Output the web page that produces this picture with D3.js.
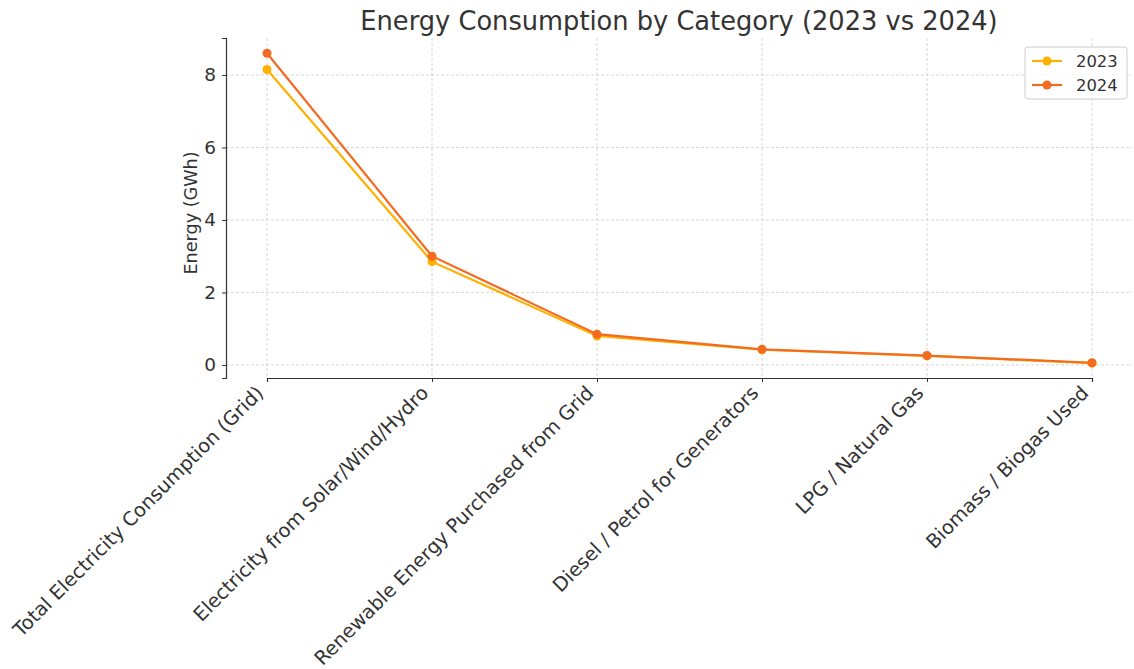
<!DOCTYPE html>
<html>
<head>
<meta charset="utf-8">
<script src="https://cdn.jsdelivr.net/npm/d3@7"></script>
<style>
  body { margin: 0; background: #fff; }
  text { font-family: "DejaVu Sans", sans-serif; fill: #333; }
</style>
</head>
<body>
<svg id="chart" width="1134" height="669"></svg>
<script>
var categories = [
  "Total Electricity Consumption (Grid)",
  "Electricity from Solar/Wind/Hydro",
  "Renewable Energy Purchased from Grid",
  "Diesel / Petrol for Generators",
  "LPG / Natural Gas",
  "Biomass / Biogas Used"
];
var values2023 = [8.15, 2.85, 0.8, 0.42, 0.25, 0.05];
var values2024 = [8.6, 3.0, 0.85, 0.43, 0.26, 0.06];
var yTicks = [0, 2, 4, 6, 8];

var series = [
  { name: "2023", color: "#ffb000", values: values2023 },
  { name: "2024", color: "#f26b21", values: values2024 }
];

var svg = d3.select("#chart");
var margin = { left: 226, right: 2, top: 38, bottom: 291 };
var width = 1134 - margin.left - margin.right;
var height = 669 - margin.top - margin.bottom;

var x = d3.scalePoint()
  .domain(categories)
  .range([41, width - 40]);

var y = d3.scaleLinear()
  .domain([-0.36, 9.02])
  .range([height, 0]);

var g = svg.append("g")
  .attr("transform", "translate(" + margin.left + "," + margin.top + ")");

// grid
g.append("g").selectAll("line.h")
  .data(yTicks).enter().append("line")
  .attr("x1", 0).attr("x2", width)
  .attr("y1", d => y(d)).attr("y2", d => y(d))
  .attr("stroke", "#cccccc").attr("stroke-width", 0.8)
  .attr("stroke-dasharray", "3,2");
g.append("g").selectAll("line.v")
  .data(categories).enter().append("line")
  .attr("y1", 0).attr("y2", height)
  .attr("x1", d => x(d)).attr("x2", d => x(d))
  .attr("stroke", "#cccccc").attr("stroke-width", 0.8)
  .attr("stroke-dasharray", "3,2");

// axes
var yAxis = g.append("g")
  .call(d3.axisLeft(y).tickValues(yTicks).tickSize(4).tickPadding(6));
var xAxis = g.append("g")
  .attr("transform", "translate(0," + height + ")")
  .call(d3.axisBottom(x).tickSize(4).tickPadding(6));

[yAxis, xAxis].forEach(function (a) {
  a.select(".domain").attr("stroke", "#333").attr("stroke-width", 1.2);
  a.selectAll(".tick line").attr("stroke", "#333");
  a.selectAll(".tick text").style("font-size", "18.5px").attr("fill", "#333");
});

xAxis.selectAll(".tick text")
  .style("font-size", "19.4px")
  .attr("text-anchor", "end")
  .attr("dy", "0.3em")
  .attr("transform", "translate(-14,5) rotate(-45)");

// lines
var line = d3.line()
  .x((d, i) => x(categories[i]))
  .y(d => y(d));

series.forEach(function (s) {
  g.append("path")
    .datum(s.values)
    .attr("fill", "none")
    .attr("stroke", s.color)
    .attr("stroke-width", 2.2)
    .attr("d", line);
  g.selectAll(null)
    .data(s.values).enter().append("circle")
    .attr("cx", (d, i) => x(categories[i]))
    .attr("cy", d => y(d))
    .attr("r", 4.5)
    .attr("fill", s.color);
});

// title and labels
svg.append("text")
  .attr("x", margin.left + width / 2)
  .attr("y", 30)
  .attr("text-anchor", "middle")
  .style("font-size", "25.7px")
  .text("Energy Consumption by Category (2023 vs 2024)");

svg.append("text")
  .attr("transform", "translate(197," + (margin.top + y(4) - 7) + ") rotate(-90)")
  .attr("text-anchor", "middle")
  .style("font-size", "17.6px")
  .text("Energy (GWh)");

// legend
var legend = svg.append("g").attr("transform", "translate(1025,47)");
legend.append("rect")
  .attr("width", 102).attr("height", 52).attr("rx", 3)
  .attr("fill", "#fff").attr("fill-opacity", 0.8)
  .attr("stroke", "#ccc");
series.forEach(function (s, i) {
  var ly = 14 + i * 24;
  legend.append("line")
    .attr("x1", 7).attr("x2", 37).attr("y1", ly).attr("y2", ly)
    .attr("stroke", s.color).attr("stroke-width", 2.2);
  legend.append("circle")
    .attr("cx", 22).attr("cy", ly).attr("r", 4.5).attr("fill", s.color);
  legend.append("text")
    .attr("x", 51).attr("y", ly).attr("dy", "0.35em")
    .style("font-size", "16.4px")
    .text(s.name);
});
</script>
</body>
</html>
